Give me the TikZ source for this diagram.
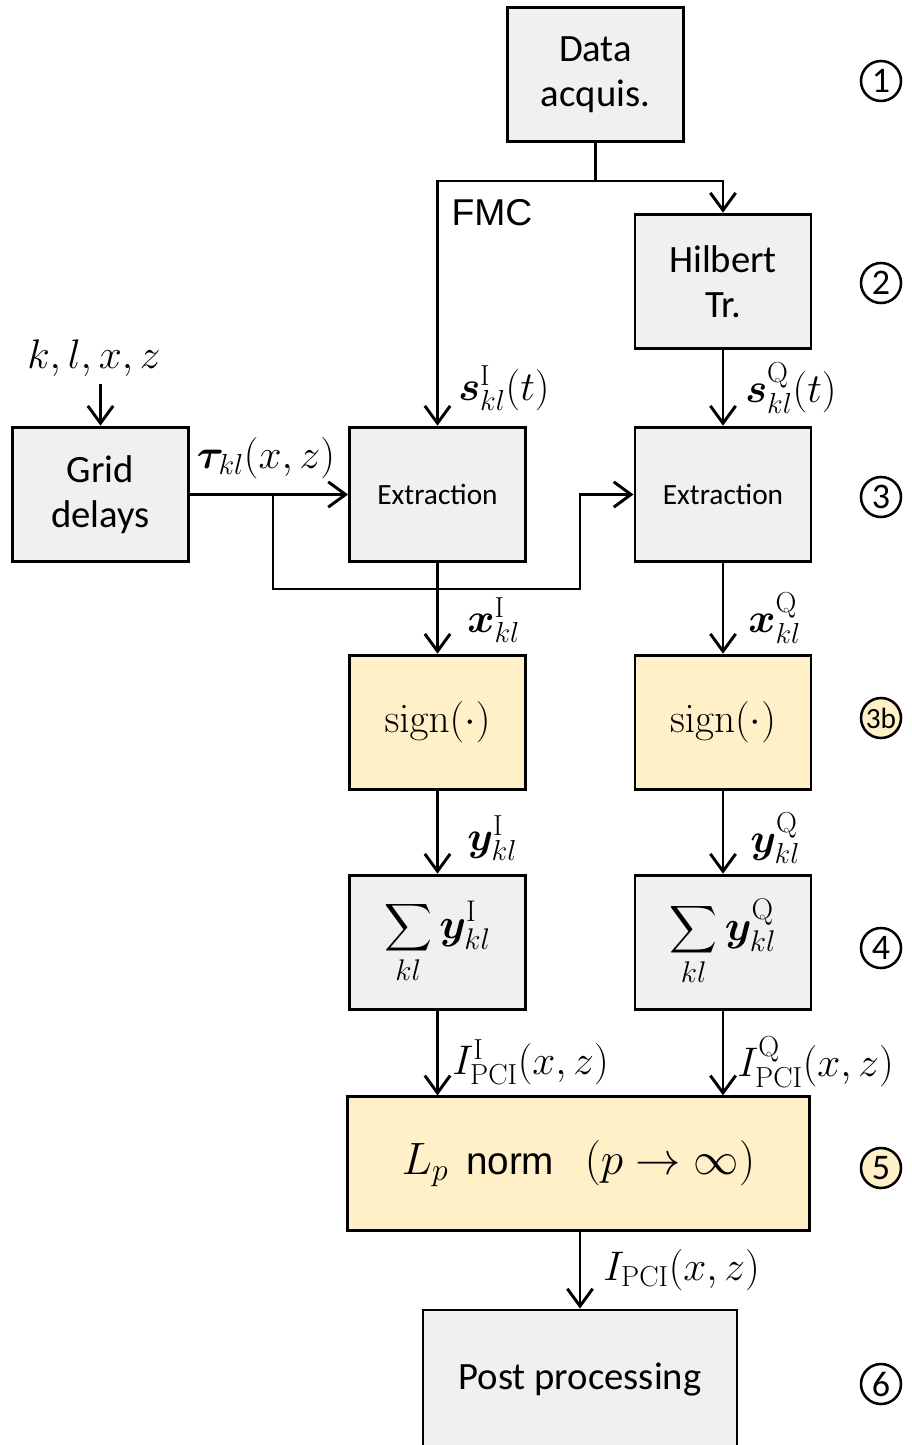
\RequirePackage{fix-cm}
\documentclass[tikz,border=0pt]{standalone}
\usepackage{amsmath,bm}
\usepackage[no-math]{fontspec}
\setmainfont{Carlito}
\newfontfamily\arialf{Liberation Sans}
\usetikzlibrary{arrows.meta}
\definecolor{boxgray}{HTML}{F0F0F0}
\definecolor{boxyel}{HTML}{FFF0C8}
\newcommand\bigtxt{\fontsize{29}{34}\selectfont}
\newcommand\midtxt{\fontsize{22}{26}\selectfont}
\newcommand\mathfs{\fontsize{31}{34}\selectfont}
\begin{document}
\begin{tikzpicture}[x=0.75pt,y=-0.75pt,
  box/.style={draw, line width=2.2pt, fill=boxgray, minimum width=132pt, minimum height=101pt, align=center, inner sep=0pt, font=\bigtxt},
  ybox/.style={box, fill=boxyel},
  arr/.style={line width=2.2pt, -{Straight Barb[length=13pt,width=19pt,line width=2.2pt]}},
  ln/.style={line width=2.2pt},
  lab/.style={inner sep=0pt, font=\mathfs},
  circ/.style={draw, circle, line width=1.9pt, minimum size=30pt, inner sep=0pt, font=\fontsize{27}{27}\selectfont},
  ycirc/.style={circ, fill=boxyel}]
\useasboundingbox (0,0) rectangle (912,1445);
\clip (0,0) rectangle (912,1445);
% boxes
\node[box] (DA) at (595.5,74.5) {Data\\acquis.};
\node[box] (Hil) at (723,281.5) {Hilbert\\Tr.};
\node[box] (Grid) at (100.5,494.5) {Grid\\delays};
\node[box, font=\midtxt] (ExI) at (437.5,494.5) {Extraction};
\node[box, font=\midtxt] (ExQ) at (723,494.5) {Extraction};
\node[ybox, font=\fontsize{31}{34}\selectfont] (SgI) at (437.5,722.5) {$\operatorname{sign}(\cdot)$};
\node[ybox, font=\fontsize{31}{34}\selectfont] (SgQ) at (723,722.5) {$\operatorname{sign}(\cdot)$};
\node[box, font=\fontsize{32}{34}\selectfont] (SmI) at (437.5,942.5) {$\displaystyle\sum_{kl}\bm{y}^{\mathrm{I}}_{kl}$};
\node[box, font=\fontsize{32}{34}\selectfont] (SmQ) at (723,942.5) {$\displaystyle\sum_{kl}\bm{y}^{\mathrm{Q}}_{kl}$};
\node[ybox, minimum width=347pt, minimum height=100pt, font=\fontsize{34}{36}\selectfont] (Lp) at (578.5,1163.5) {$L_p$\ \,{\arialf\fontsize{29}{30}\selectfont norm}\ \ \ $(p\to\infty)$};
\node[box, minimum width=235.5pt, minimum height=105pt] (Post) at (580,1380) {Post processing};
% circles
\node[circ] (c1) at (881,81) {1};
\node[circ] (c2) at (881,283) {2};
\node[circ] (c3) at (881,497) {3};
\node[ycirc, font=\fontsize{22}{22}\selectfont] (c3b) at (881,718) {3b};
\node[circ] (c4) at (881,948) {4};
\node[ycirc] (c5) at (881,1168) {5};
\node[circ] (c6) at (881,1384) {6};
% labels
\node[font=\arialf\fontsize{28}{30}\selectfont, inner sep=0pt] (fmc) at (492,213) {FMC};
\node[lab] (klxz) at (94,358) {$k,l,x,z$};
\node[lab] (tau) at (266,458) {$\bm{\tau}_{kl}(x,z)$};
\node[lab, anchor=west] (sI) at (458,388) {$\bm{s}^{\mathrm{I}}_{kl}(t)$};
\node[lab, anchor=west] (sQ) at (745,388) {$\bm{s}^{\mathrm{Q}}_{kl}(t)$};
\node[lab, anchor=west] (xI) at (467,620) {$\bm{x}^{\mathrm{I}}_{kl}$};
\node[lab, anchor=west] (xQ) at (748,618) {$\bm{x}^{\mathrm{Q}}_{kl}$};
\node[lab, anchor=west] (yI) at (467,838) {$\bm{y}^{\mathrm{I}}_{kl}$};
\node[lab, anchor=west] (yQ) at (750,838) {$\bm{y}^{\mathrm{Q}}_{kl}$};
\node[lab, anchor=west] (IpI) at (452,1062) {$I^{\mathrm{I}}_{\mathrm{PCI}}(x,z)$};
\node[lab, anchor=west] (IpQ) at (737,1062) {$I^{\mathrm{Q}}_{\mathrm{PCI}}(x,z)$};
\node[lab, anchor=west] (Ip) at (603,1270) {$I_{\mathrm{PCI}}(x,z)$};
% connectors
\coordinate (split) at (595.5,181);
\draw[ln] (DA.south) -- (split);
\draw[arr] (split) -| (ExI.north);
\draw[arr] (split) -| (Hil.north);
\draw[arr] (Hil.south) -- (ExQ.north);
\coordinate (kin) at (100.5,384);
\draw[arr] (kin) -- (Grid.north);
\draw[arr] (Grid.east) -- (ExI.west);
\coordinate (b1) at (273,494.5);
\coordinate (b3) at (580,589);
\draw[arr] (b1) |- (b3) |- (ExQ.west);
\draw[arr] (ExI.south) -- (SgI.north);
\draw[arr] (ExQ.south) -- (SgQ.north);
\draw[arr] (SgI.south) -- (SmI.north);
\draw[arr] (SgQ.south) -- (SmQ.north);
\draw[arr] (SmI.south) -- (SmI.south |- Lp.north);
\draw[arr] (SmQ.south) -- (SmQ.south |- Lp.north);
\draw[arr] (Lp.south -| Post.north) -- (Post.north);
\end{tikzpicture}
\end{document}
